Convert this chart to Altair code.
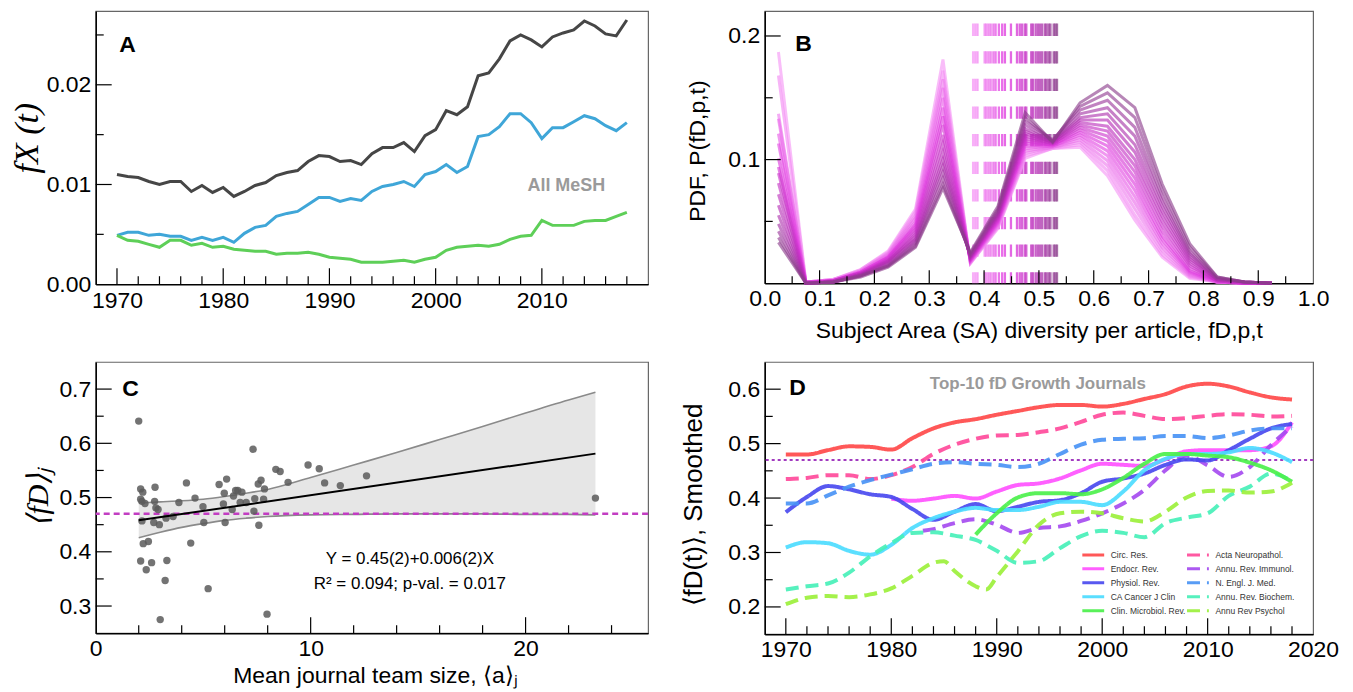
import altair as alt
import pandas as pd

SANS = "Liberation Sans"
SERIF = "Liberation Serif"

# ======================= Panel A data =======================
A_YEARS = list(range(1970, 2019))
A_ALL_MESH = [0.0110, 0.0108, 0.0107, 0.0103, 0.0100, 0.0103, 0.0103, 0.0093, 0.0099, 0.0092,
              0.0097, 0.0088, 0.0093, 0.0099, 0.0102, 0.0109, 0.0112, 0.0114, 0.0123, 0.0129,
              0.0128, 0.0123, 0.0124, 0.0120, 0.0131, 0.0137, 0.0137, 0.0142, 0.0133, 0.0149,
              0.0155, 0.0174, 0.0170, 0.0178, 0.0209, 0.0212, 0.0226, 0.0244, 0.0250, 0.0245,
              0.0238, 0.0248, 0.0252, 0.0255, 0.0264, 0.0259, 0.0251, 0.0249, 0.0265]
A_BLUE = [0.0049, 0.0052, 0.0052, 0.0049, 0.0050, 0.0048, 0.0048, 0.0044, 0.0047, 0.0044,
          0.0047, 0.0042, 0.0051, 0.0057, 0.0059, 0.0068, 0.0071, 0.0073, 0.0080, 0.0087,
          0.0087, 0.0083, 0.0086, 0.0084, 0.0093, 0.0098, 0.0100, 0.0103, 0.0098, 0.0110,
          0.0113, 0.0120, 0.0112, 0.0118, 0.0148, 0.0150, 0.0158, 0.0171, 0.0171, 0.0162,
          0.0146, 0.0157, 0.0157, 0.0163, 0.0169, 0.0166, 0.0159, 0.0154, 0.0162]
A_GREEN = [0.0049, 0.0044, 0.0043, 0.0040, 0.0037, 0.0044, 0.0044, 0.0039, 0.0041, 0.0037,
           0.0038, 0.0035, 0.0034, 0.0033, 0.0033, 0.0030, 0.0031, 0.0031, 0.0032, 0.0030,
           0.0027, 0.0026, 0.0025, 0.0022, 0.0022, 0.0022, 0.0023, 0.0024, 0.0022, 0.0025,
           0.0027, 0.0034, 0.0037, 0.0038, 0.0039, 0.0038, 0.0040, 0.0045, 0.0048, 0.0049,
           0.0064, 0.0059, 0.0059, 0.0059, 0.0063, 0.0064, 0.0064, 0.0068, 0.0072]
A_SERIES = ["All MeSH", "MeSH group 2", "MeSH group 3"]
A_COLORS = ["#464646", "#3fa6d8", "#5ecf58"]
A_X_LABELS = [1970, 1980, 1990, 2000, 2010]
A_X_MINOR = [1972, 1974, 1976, 1978, 1982, 1984, 1986, 1988, 1992, 1994, 1996, 1998,
             2002, 2004, 2006, 2008, 2012, 2014, 2016, 2018]
A_Y_LABELS = [0.0, 0.01, 0.02]
A_Y_MAJOR = [0.01, 0.02]
A_Y_MINOR = [0.005, 0.015, 0.025]

# ======================= Panel B data =======================
B_BINS = [0.025, 0.075, 0.125, 0.175, 0.225, 0.275, 0.325, 0.375, 0.425, 0.475,
          0.525, 0.575, 0.625, 0.675, 0.725, 0.775, 0.825, 0.875, 0.925]
# one value per yearly curve (17 curves, earliest first) for each bin
B_P025 = [0.187, 0.168, 0.137, 0.133, 0.121, 0.113, 0.101, 0.094, 0.089, 0.081, 0.072, 0.063, 0.055, 0.048, 0.042, 0.037, 0.033]
B_P075 = [0.001, 0.001, 0.001, 0.001, 0.001, 0.001, 0.001, 0.000, 0.000, 0.000, 0.000, 0.000, 0.000, 0.000, 0.000, 0.000, 0.000]
B_P125 = [0.003, 0.003, 0.003, 0.002, 0.002, 0.002, 0.002, 0.002, 0.002, 0.002, 0.001, 0.001, 0.001, 0.001, 0.001, 0.001, 0.001]
B_P175 = [0.011, 0.011, 0.010, 0.010, 0.009, 0.009, 0.009, 0.008, 0.008, 0.008, 0.007, 0.007, 0.007, 0.006, 0.006, 0.006, 0.005]
B_P225 = [0.026, 0.025, 0.024, 0.023, 0.022, 0.021, 0.021, 0.020, 0.019, 0.018, 0.018, 0.017, 0.016, 0.015, 0.014, 0.014, 0.013]
B_P275 = [0.060, 0.058, 0.055, 0.053, 0.050, 0.048, 0.046, 0.044, 0.042, 0.040, 0.038, 0.036, 0.035, 0.033, 0.032, 0.030, 0.029]
B_P325 = [0.181, 0.172, 0.165, 0.158, 0.150, 0.142, 0.135, 0.128, 0.120, 0.113, 0.106, 0.100, 0.095, 0.090, 0.085, 0.080, 0.077]
B_P375 = [0.016, 0.016, 0.017, 0.017, 0.018, 0.018, 0.019, 0.019, 0.020, 0.020, 0.021, 0.021, 0.022, 0.022, 0.023, 0.024, 0.025]
B_P425 = [0.044, 0.045, 0.046, 0.047, 0.048, 0.049, 0.050, 0.051, 0.052, 0.053, 0.054, 0.055, 0.056, 0.057, 0.058, 0.060, 0.062]
B_P475 = [0.101, 0.103, 0.105, 0.107, 0.109, 0.111, 0.113, 0.115, 0.117, 0.119, 0.121, 0.123, 0.125, 0.128, 0.131, 0.134, 0.138]
B_P525 = [0.109, 0.109, 0.110, 0.110, 0.111, 0.111, 0.112, 0.112, 0.113, 0.113, 0.114, 0.114, 0.115, 0.115, 0.116, 0.115, 0.114]
B_P575 = [0.110, 0.112, 0.114, 0.116, 0.118, 0.120, 0.122, 0.124, 0.126, 0.128, 0.130, 0.132, 0.134, 0.137, 0.140, 0.143, 0.146]
B_P625 = [0.087, 0.091, 0.095, 0.099, 0.103, 0.107, 0.111, 0.115, 0.119, 0.123, 0.127, 0.132, 0.137, 0.142, 0.148, 0.154, 0.160]
B_P675 = [0.051, 0.055, 0.060, 0.065, 0.070, 0.075, 0.080, 0.085, 0.090, 0.095, 0.100, 0.106, 0.112, 0.119, 0.126, 0.134, 0.142]
B_P725 = [0.021, 0.023, 0.026, 0.029, 0.032, 0.035, 0.038, 0.042, 0.046, 0.050, 0.054, 0.058, 0.062, 0.066, 0.070, 0.075, 0.080]
B_P775 = [0.004, 0.005, 0.006, 0.007, 0.008, 0.009, 0.010, 0.012, 0.014, 0.016, 0.018, 0.020, 0.022, 0.024, 0.026, 0.029, 0.032]
B_P825 = [0.001, 0.001, 0.001, 0.001, 0.001, 0.001, 0.002, 0.002, 0.002, 0.002, 0.003, 0.003, 0.003, 0.004, 0.004, 0.005, 0.005]
B_P875 = [0.000, 0.000, 0.000, 0.000, 0.000, 0.000, 0.000, 0.000, 0.000, 0.000, 0.001, 0.001, 0.001, 0.001, 0.001, 0.001, 0.001]
B_P925 = [0.000, 0.000, 0.000, 0.000, 0.000, 0.000, 0.000, 0.000, 0.000, 0.000, 0.000, 0.000, 0.000, 0.000, 0.000, 0.000, 0.000]
B_COLUMNS = [B_P025, B_P075, B_P125, B_P175, B_P225, B_P275, B_P325, B_P375, B_P425, B_P475,
             B_P525, B_P575, B_P625, B_P675, B_P725, B_P775, B_P825, B_P875, B_P925]
# yearly mean diversity (dashed markers), earliest first
B_MEANS = [0.380, 0.384, 0.388, 0.401, 0.404, 0.408, 0.412, 0.417, 0.421, 0.427, 0.433,
           0.438, 0.449, 0.460, 0.465, 0.469, 0.474, 0.477, 0.486, 0.489, 0.494, 0.498,
           0.502, 0.506, 0.511, 0.514, 0.518, 0.521, 0.527, 0.530, 0.533]
B_MEAN_TOP = 0.21
B_X_LABELS = [0.0, 0.1, 0.2, 0.3, 0.4, 0.5, 0.6, 0.7, 0.8, 0.9, 1.0]
B_X_MAJOR = [0.1, 0.2, 0.3, 0.4, 0.5, 0.6, 0.7, 0.8, 0.9]
B_X_MINOR = [0.05, 0.15, 0.25, 0.35, 0.45, 0.55, 0.65, 0.75, 0.85, 0.95]
B_Y_LABELS = [0.1, 0.2]
B_Y_MAJOR = [0.1, 0.2]
B_Y_MINOR = [0.05, 0.15]

# ======================= Panel C data =======================
C_TEAM = [2.0, 2.09, 2.19, 2.09, 2.15, 2.29, 2.15, 2.21, 2.45, 2.09, 2.35, 2.6, 2.76, 2.74,
          2.8, 2.9, 2.7, 2.96, 3.27, 3.6, 3.0, 3.23, 3.31, 3.87, 4.22, 4.42, 4.62, 4.99,
          5.03, 5.23, 5.74, 5.94, 5.98, 6.02, 6.09, 6.35, 6.41, 6.51, 6.61, 6.72, 6.8,
          7.0, 7.32, 7.36, 7.4, 7.56, 7.69, 7.59, 7.85, 7.81, 7.97, 8.38, 8.58, 8.95,
          9.88, 10.4, 10.65, 11.38, 12.6, 23.25]
C_FD = [0.641, 0.516, 0.510, 0.497, 0.493, 0.489, 0.457, 0.415, 0.419, 0.383, 0.367, 0.380,
        0.519, 0.493, 0.481, 0.478, 0.454, 0.450, 0.462, 0.465, 0.275, 0.347, 0.384, 0.491,
        0.527, 0.416, 0.499, 0.483, 0.454, 0.332, 0.524, 0.488, 0.508, 0.454, 0.534, 0.478,
        0.503, 0.513, 0.513, 0.491, 0.510, 0.491, 0.589, 0.475, 0.498, 0.525, 0.532, 0.449,
        0.516, 0.497, 0.285, 0.552, 0.548, 0.528, 0.560, 0.553, 0.527, 0.522, 0.540, 0.499]
C_FIT_X = [2.0, 23.25]
C_FIT_Y = [0.458, 0.581]
C_BAND_X = [2.0, 3.0, 4.0, 5.0, 6.0, 7.0, 8.0, 10.0, 12.0, 14.0, 16.0, 18.0, 20.0, 22.0, 23.25]
C_BAND_HI = [0.490, 0.492, 0.494, 0.497, 0.502, 0.508, 0.515, 0.537, 0.560, 0.583, 0.607, 0.631, 0.656, 0.680, 0.694]
C_BAND_LO = [0.426, 0.436, 0.445, 0.452, 0.458, 0.462, 0.465, 0.468, 0.469, 0.470, 0.470, 0.470, 0.469, 0.469, 0.468]
C_REF_LINE = [0.47]
C_X_LABELS = [0, 10, 20]
C_X_MAJOR = [10, 20]
C_X_MINOR = [2, 4, 6, 8, 12, 14, 16, 18, 22, 24]
C_Y_LABELS = [0.3, 0.4, 0.5, 0.6, 0.7]
C_Y_MAJOR = [0.3, 0.4, 0.5, 0.6, 0.7]
C_Y_MINOR = [0.35, 0.45, 0.55, 0.65]

# ======================= Panel D data =======================
# listed in the order the two-column legend shows them (left column first)
D_JOURNALS = ["Circ. Res.", "Endocr. Rev.", "Physiol. Rev.", "CA Cancer J Clin", "Clin. Microbiol. Rev.",
              "Acta Neuropathol.", "Annu. Rev. Immunol.", "N. Engl. J. Med.", "Annu. Rev. Biochem.",
              "Annu Rev Psychol"]
D_COLORS = ["#ff4a4a", "#ff52ff", "#4a4aef", "#4ddcff", "#4cf04c",
            "#ff4b9b", "#a64cf0", "#4a94f5", "#48f0b8", "#9cf03c"]
D_DASHES = [[1, 0], [1, 0], [1, 0], [1, 0], [1, 0],
            [13, 7], [13, 7], [13, 7], [13, 7], [13, 7]]
D_YEARS_FULL = [1970, 1972, 1974, 1976, 1978, 1980, 1982, 1984, 1986, 1988, 1990, 1992, 1994,
                1996, 1998, 2000, 2002, 2004, 2006, 2008, 2010, 2012, 2014, 2016, 2018]
D_CIRC = [0.480, 0.480, 0.488, 0.495, 0.494, 0.489, 0.510, 0.528, 0.539, 0.545, 0.553, 0.560, 0.567,
          0.571, 0.571, 0.568, 0.573, 0.582, 0.591, 0.605, 0.610, 0.605, 0.594, 0.585, 0.581]
D_ACTA = [0.435, 0.437, 0.442, 0.442, 0.435, 0.442, 0.457, 0.481, 0.498, 0.509, 0.515, 0.516, 0.521,
          0.528, 0.540, 0.553, 0.557, 0.551, 0.545, 0.547, 0.551, 0.554, 0.553, 0.550, 0.551]
D_YEARS_ENDO = [1980, 1982, 1984, 1986, 1988, 1990, 1992, 1994, 1996, 1998, 2000, 2002, 2004,
                2006, 2008, 2010, 2012, 2014, 2016, 2018]
D_ENDO = [0.399, 0.395, 0.399, 0.404, 0.399, 0.412, 0.424, 0.427, 0.436, 0.451, 0.463, 0.461, 0.459,
          0.471, 0.486, 0.488, 0.488, 0.488, 0.495, 0.539]
D_YEARS_IMMUNO = [1983, 1984, 1986, 1988, 1990, 1992, 1994, 1996, 1998, 2000, 2002, 2004, 2006,
                  2008, 2010, 2012, 2014, 2016, 2018]
D_IMMUNO = [0.340, 0.343, 0.354, 0.361, 0.351, 0.336, 0.345, 0.348, 0.358, 0.372, 0.390, 0.415, 0.451,
            0.478, 0.460, 0.439, 0.457, 0.497, 0.532]
D_PHYSIOL = [0.374, 0.402, 0.422, 0.416, 0.407, 0.402, 0.380, 0.360, 0.375, 0.389, 0.376, 0.384, 0.393,
             0.396, 0.409, 0.430, 0.436, 0.445, 0.461, 0.471, 0.469, 0.488, 0.509, 0.528, 0.536]
D_NEJM = [0.390, 0.390, 0.405, 0.421, 0.433, 0.443, 0.453, 0.463, 0.466, 0.463, 0.461, 0.457, 0.463,
          0.481, 0.498, 0.507, 0.509, 0.510, 0.514, 0.514, 0.510, 0.515, 0.524, 0.528, 0.528]
D_CA = [0.309, 0.319, 0.317, 0.303, 0.296, 0.314, 0.345, 0.363, 0.375, 0.382, 0.378, 0.378, 0.384,
        0.393, 0.393, 0.387, 0.412, 0.451, 0.472, 0.481, 0.481, 0.484, 0.492, 0.484, 0.466]
D_BIOCHEM = [0.232, 0.238, 0.243, 0.263, 0.293, 0.317, 0.336, 0.337, 0.331, 0.323, 0.303, 0.281, 0.284,
             0.308, 0.330, 0.340, 0.336, 0.328, 0.354, 0.364, 0.372, 0.404, 0.421, 0.445, 0.431]
D_YEARS_MICRO = [1988, 1990, 1992, 1994, 1996, 1998, 2000, 2002, 2004, 2006, 2008, 2010, 2012,
                 2014, 2016, 2018]
D_MICRO = [0.333, 0.372, 0.401, 0.409, 0.409, 0.407, 0.416, 0.437, 0.463, 0.481, 0.481, 0.478, 0.475,
           0.465, 0.451, 0.430]
D_YEARS_PSYCH = [1970, 1972, 1974, 1976, 1978, 1980, 1982, 1984, 1985, 1986, 1988, 1989, 1990,
                 1992, 1994, 1996, 1998, 2000, 2002, 2004, 2006, 2008, 2010, 2012, 2014, 2016, 2018]
D_PSYCH = [0.205, 0.217, 0.220, 0.218, 0.223, 0.234, 0.257, 0.281, 0.284, 0.266, 0.238, 0.232, 0.255,
           0.302, 0.351, 0.372, 0.375, 0.372, 0.363, 0.357, 0.375, 0.401, 0.413, 0.414, 0.410, 0.412, 0.428]
D_REF_LINE = [0.47]
D_X_LABELS = [1970, 1980, 1990, 2000, 2010, 2020]
D_X_MAJOR = [1970, 1980, 1990, 2000, 2010]
D_X_MINOR = [1972, 1974, 1976, 1978, 1982, 1984, 1986, 1988, 1992, 1994, 1996, 1998,
             2002, 2004, 2006, 2008, 2012, 2014, 2016, 2018]
D_Y_LABELS = [0.2, 0.3, 0.4, 0.5, 0.6]
D_Y_MAJOR = [0.2, 0.3, 0.4, 0.5, 0.6]
D_Y_MINOR = [0.25, 0.35, 0.45, 0.55]

# ======================= helpers =======================
MAJOR, MINOR = 16, 8


def y_ticks(vals, scale, axis, length):
    return alt.Chart(pd.DataFrame({"tick": vals})).mark_rule(color="black", strokeWidth=1.2).encode(
        y=alt.Y("tick:Q", scale=scale, axis=axis), x=alt.value(0), x2=alt.value(length))


def x_ticks(vals, scale, axis, length, height):
    return alt.Chart(pd.DataFrame({"tick": vals})).mark_rule(color="black", strokeWidth=1.2).encode(
        x=alt.X("tick:Q", scale=scale, axis=axis), y=alt.value(height), y2=alt.value(height - length))


def note(txt, px, py, size, color="black", weight="bold", font=SANS):
    return alt.Chart(pd.DataFrame({"label": [txt]})).mark_text(
        font=font, fontSize=size, fontWeight=weight, color=color, align="center", baseline="middle"
    ).encode(text="label:N", x=alt.value(px), y=alt.value(py))


def y_axis(values, fmt, title, tx, ty, size, font=SANS, style="normal", pad=5):
    return alt.Axis(values=values, format=fmt, title=title, titleX=tx, titleY=ty, titleAngle=270,
                    titleAlign="center", titleBaseline="middle", titleFontSize=size,
                    titleFont=font, titleFontStyle=style, labelPadding=pad)


def x_axis(values, fmt, title=None, tx=0, ty=0, size=21, pad=5):
    if title is None:
        return alt.Axis(values=values, format=fmt, title=None, labelPadding=pad)
    return alt.Axis(values=values, format=fmt, title=title, titleX=tx, titleY=ty,
                    titleAlign="center", titleBaseline="middle", titleFontSize=size,
                    titleFont=SANS, labelPadding=pad)


# ======================= Panel A =======================
wA, hA = 554, 274
xA = alt.Scale(domain=[1968, 2020], nice=False, zero=False)
yA = alt.Scale(domain=[0, 0.0274], nice=False, zero=False)
axXA = x_axis(A_X_LABELS, "d", pad=5)
axYA = y_axis(A_Y_LABELS, ".2f", "fX (t)", -68, 127, 34, SERIF, "italic")
dfA = pd.DataFrame({
    "year": A_YEARS * 3,
    "value": A_ALL_MESH + A_BLUE + A_GREEN,
    "series": [A_SERIES[0]] * len(A_YEARS) + [A_SERIES[1]] * len(A_YEARS) + [A_SERIES[2]] * len(A_YEARS),
})
linesA = alt.Chart(dfA).mark_line(strokeWidth=3).encode(
    x=alt.X("year:Q", scale=xA, axis=axXA),
    y=alt.Y("value:Q", scale=yA, axis=axYA),
    color=alt.Color("series:N", scale=alt.Scale(domain=A_SERIES, range=A_COLORS), legend=None),
)
panelA = alt.layer(
    linesA,
    y_ticks(A_Y_MAJOR, yA, axYA, MAJOR), y_ticks(A_Y_MINOR, yA, axYA, MINOR),
    x_ticks(A_X_LABELS, xA, axXA, MAJOR, hA), x_ticks(A_X_MINOR, xA, axXA, MINOR, hA),
    note("A", 32, 34, 23),
    note("All MeSH", 472, 176, 18, color="#9a9a9a"),
).properties(width=wA, height=hA)

# ======================= Panel B =======================
wB, hB = 550, 273
xB = alt.Scale(domain=[0, 1], nice=False, zero=False)
yB = alt.Scale(domain=[0, 0.2202], nice=False, zero=False)
axXB = x_axis(B_X_LABELS, ".1f", "Subject Area (SA) diversity per article, fD,p,t", 275, 47, 23, pad=4)
axYB = y_axis(B_Y_LABELS, ".1f", "PDF, P(fD,p,t)", -67, 140, 23)
n_curves = len(B_P025)
rowsB = []
for j, b in enumerate(B_BINS):
    for i in range(n_curves):
        rowsB.append({"x": b, "pdf": B_COLUMNS[j][i], "curve": i, "t": i / (n_curves - 1)})
dfB = pd.DataFrame(rowsB)
colB = alt.Scale(domain=[0, 0.35, 0.7, 1.0], range=["#f595f5", "#e038e0", "#b32cb3", "#8a3c8a"])
dfBm = pd.DataFrame({
    "x": B_MEANS,
    "top": [B_MEAN_TOP] * len(B_MEANS),
    "bottom": [0.0] * len(B_MEANS),
    "t": [k / (len(B_MEANS) - 1) for k in range(len(B_MEANS))],
})
rulesB = alt.Chart(dfBm).mark_rule(strokeWidth=2.3, strokeDash=[12.3, 15.4], opacity=0.75).encode(
    x=alt.X("x:Q", scale=xB, axis=axXB),
    y=alt.Y("top:Q", scale=yB, axis=axYB),
    y2="bottom:Q",
    color=alt.Color("t:Q", scale=colB, legend=None),
)
linesB = alt.Chart(dfB).mark_line(strokeWidth=3, opacity=0.62).encode(
    x=alt.X("x:Q", scale=xB, axis=axXB),
    y=alt.Y("pdf:Q", scale=yB, axis=axYB),
    color=alt.Color("t:Q", scale=colB, legend=None),
    detail="curve:N",
)
panelB = alt.layer(
    rulesB, linesB,
    y_ticks(B_Y_MAJOR, yB, axYB, MAJOR), y_ticks(B_Y_MINOR, yB, axYB, MINOR),
    x_ticks(B_X_MAJOR, xB, axXB, 13, hB), x_ticks(B_X_MINOR, xB, axXB, 7, hB),
    note("B", 39, 33, 23),
).properties(width=wB, height=hB)

# ======================= Panel C =======================
wC, hC = 554, 272
xC = alt.Scale(domain=[0, 25.7], nice=False, zero=False)
yC = alt.Scale(domain=[0.25, 0.75], nice=False, zero=False)
axXC = x_axis(C_X_LABELS, "d", "Mean journal team size, ⟨a⟩ⱼ", 280, 42, 23, pad=4)
axYC = y_axis(C_Y_LABELS, ".1f", "⟨fD⟩ⱼ", -57, 135, 30, SERIF, "italic")
dfCband = pd.DataFrame({"x": C_BAND_X, "lo": C_BAND_LO, "hi": C_BAND_HI})
bandC = alt.Chart(dfCband).mark_area(color="#e6e6e6", interpolate="monotone").encode(
    x=alt.X("x:Q", scale=xC, axis=axXC),
    y=alt.Y("lo:Q", scale=yC, axis=axYC),
    y2="hi:Q",
)
edgeLo = alt.Chart(dfCband).mark_line(color="#8a8a8a", strokeWidth=1.6, interpolate="monotone").encode(
    x=alt.X("x:Q", scale=xC, axis=axXC), y=alt.Y("lo:Q", scale=yC, axis=axYC))
edgeHi = alt.Chart(dfCband).mark_line(color="#8a8a8a", strokeWidth=1.6, interpolate="monotone").encode(
    x=alt.X("x:Q", scale=xC, axis=axXC), y=alt.Y("hi:Q", scale=yC, axis=axYC))
refC = alt.Chart(pd.DataFrame({"ref": C_REF_LINE})).mark_rule(
    color="#c23dc2", strokeDash=[6, 4], strokeWidth=2.5).encode(y=alt.Y("ref:Q", scale=yC, axis=axYC))
pointsC = alt.Chart(pd.DataFrame({"team": C_TEAM, "fd": C_FD})).mark_circle(
    size=55, color="#5a5a5a", opacity=0.85).encode(
    x=alt.X("team:Q", scale=xC, axis=axXC), y=alt.Y("fd:Q", scale=yC, axis=axYC))
fitC = alt.Chart(pd.DataFrame({"x": C_FIT_X, "y": C_FIT_Y})).mark_line(color="black", strokeWidth=2).encode(
    x=alt.X("x:Q", scale=xC, axis=axXC), y=alt.Y("y:Q", scale=yC, axis=axYC))
panelC = alt.layer(
    bandC, edgeLo, edgeHi, refC, pointsC, fitC,
    note("Y = 0.45(2)+0.006(2)X", 315, 198, 17, weight="normal"),
    note("R² = 0.094; p-val. = 0.017", 315, 223, 17, weight="normal"),
    y_ticks(C_Y_MAJOR, yC, axYC, MAJOR), y_ticks(C_Y_MINOR, yC, axYC, MINOR),
    x_ticks(C_X_MAJOR, xC, axXC, MAJOR, hC), x_ticks(C_X_MINOR, xC, axXC, MINOR, hC),
    note("C", 35, 27, 23),
).properties(width=wC, height=hC)

# ======================= Panel D =======================
wD, hD = 550, 273
xD = alt.Scale(domain=[1968, 2020], nice=False, zero=False)
yD = alt.Scale(domain=[0.15, 0.65], nice=False, zero=False)
axXD = x_axis(D_X_LABELS, "d", pad=4)
axYD = y_axis(D_Y_LABELS, ".1f", "⟨fD(t)⟩, Smoothed", -71, 143, 26)
series_D = [
    ("Circ. Res.", D_YEARS_FULL, D_CIRC),
    ("Acta Neuropathol.", D_YEARS_FULL, D_ACTA),
    ("Endocr. Rev.", D_YEARS_ENDO, D_ENDO),
    ("Annu. Rev. Immunol.", D_YEARS_IMMUNO, D_IMMUNO),
    ("Physiol. Rev.", D_YEARS_FULL, D_PHYSIOL),
    ("N. Engl. J. Med.", D_YEARS_FULL, D_NEJM),
    ("CA Cancer J Clin", D_YEARS_FULL, D_CA),
    ("Annu. Rev. Biochem.", D_YEARS_FULL, D_BIOCHEM),
    ("Clin. Microbiol. Rev.", D_YEARS_MICRO, D_MICRO),
    ("Annu Rev Psychol", D_YEARS_PSYCH, D_PSYCH),
]
rowsD = []
for name, yrs, vals in series_D:
    for yr, v in zip(yrs, vals):
        rowsD.append({"journal": name, "year": yr, "value": v})
dfD = pd.DataFrame(rowsD)
legD = alt.Legend(orient="none", legendX=317, legendY=181, columns=2, gridAlign="none", title=None,
                  symbolType="stroke", symbolStrokeWidth=3, symbolSize=480, labelFontSize=8.5,
                  labelFont=SANS, labelColor="#333333", columnPadding=-5, rowPadding=-5,
                  labelOffset=5, padding=0)
refD = alt.Chart(pd.DataFrame({"ref": D_REF_LINE})).mark_rule(
    color="#a23bbf", strokeDash=[3, 3], strokeWidth=2).encode(y=alt.Y("ref:Q", scale=yD, axis=axYD))
linesD = alt.Chart(dfD).mark_line(strokeWidth=4, interpolate="monotone", opacity=0.92).encode(
    x=alt.X("year:Q", scale=xD, axis=axXD),
    y=alt.Y("value:Q", scale=yD, axis=axYD),
    color=alt.Color("journal:N", scale=alt.Scale(domain=D_JOURNALS, range=D_COLORS), legend=legD),
    strokeDash=alt.StrokeDash("journal:N", scale=alt.Scale(domain=D_JOURNALS, range=D_DASHES), legend=legD),
)
panelD = alt.layer(
    refD, linesD,
    y_ticks(D_Y_MAJOR, yD, axYD, MAJOR), y_ticks(D_Y_MINOR, yD, axYD, MINOR),
    x_ticks(D_X_MAJOR, xD, axXD, MAJOR, hD), x_ticks(D_X_MINOR, xD, axXD, MINOR, hD),
    note("D", 33, 26, 23),
    note("Top-10 fD Growth Journals", 274, 22, 17, color="#9a9a9a"),
).properties(width=wD, height=hD)

# ======================= assemble =======================
chart = alt.concat(
    panelA, panelB, panelC, panelD,
    columns=2, spacing={"row": 78, "column": 117}, bounds="flush", align="each",
).resolve_scale(
    x="independent", y="independent", color="independent", strokeDash="independent"
).properties(
    padding={"left": 2, "top": 1, "right": 5, "bottom": 2}
).configure_axis(
    grid=False, ticks=False, tickSize=0, domainColor="black", domainWidth=1.5,
    labelFont=SANS, labelFontSize=23, labelColor="black", labelFlush=False, labelOverlap=False,
    titleColor="black", titleFontWeight="normal",
).configure_view(stroke="#666666", strokeWidth=1.2)

chart.save("out.html", embed_options={"renderer": "svg", "actions": False})
